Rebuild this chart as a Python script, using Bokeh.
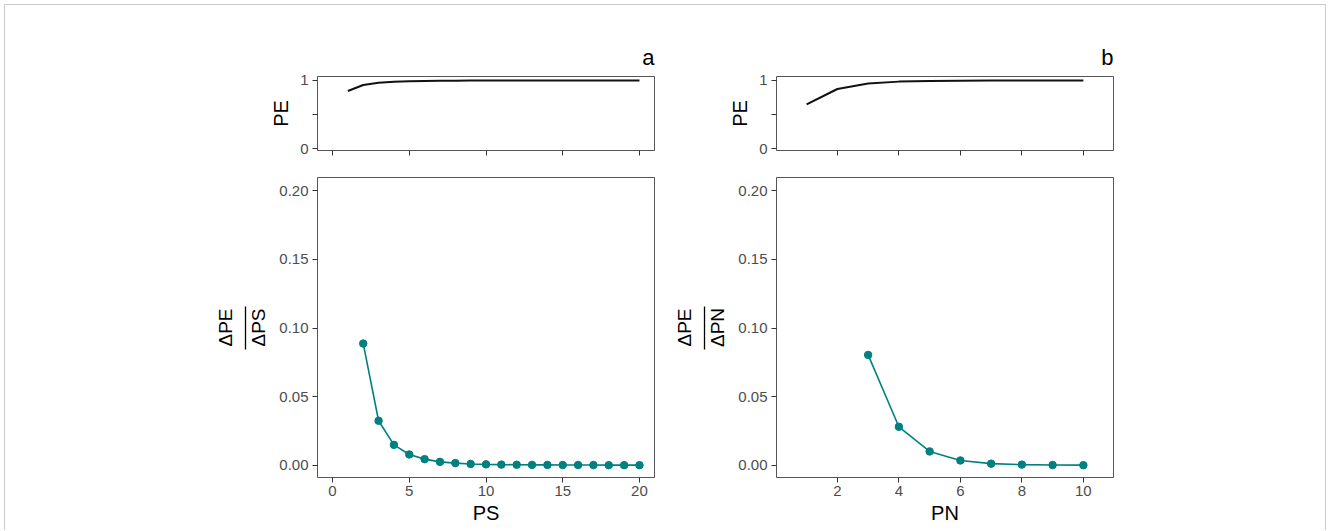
from bokeh.plotting import figure
from bokeh.models import Range1d, FixedTicker, LinearAxis, NumeralTickFormatter
from bokeh.layouts import row, column
from bokeh.embed import file_html
from bokeh.resources import INLINE

# ---------------- data ----------------
ps = [1, 2, 3, 4, 5, 6, 7, 8, 9, 10, 11, 12, 13, 14, 15, 16, 17, 18, 19, 20]
pe_ps = [0.845, 0.934, 0.966, 0.981, 0.989, 0.993, 0.995, 0.997, 0.998, 0.998,
         0.999, 0.999, 0.999, 1.0, 1.0, 1.0, 1.0, 1.0, 1.0, 1.0]
ps_delta = [2, 3, 4, 5, 6, 7, 8, 9, 10, 11, 12, 13, 14, 15, 16, 17, 18, 19, 20]
dpe_dps = [0.0887, 0.0324, 0.0148, 0.0078, 0.0044, 0.0024, 0.0015, 0.0009, 0.0006,
           0.0004, 0.0003, 0.0002, 0.0002, 0.0001, 0.0001, 0.0001, 0.0, 0.0, 0.0]

pn = [1, 2, 3, 4, 5, 6, 7, 8, 9, 10]
pe_pn = [0.65, 0.875, 0.955, 0.983, 0.993, 0.996, 0.998, 0.999, 0.999, 1.0]
pn_delta = [3, 4, 5, 6, 7, 8, 9, 10]
dpe_dpn = [0.0804, 0.028, 0.0100, 0.0034, 0.0011, 0.0004, 0.0001, 0.0]

ps_ticks = [0, 5, 10, 15, 20]
pn_ticks = [2, 4, 6, 8, 10]
pe_ticks = [0, 0.5, 1]
pe_tick_labels = ["0", "", "1"]
d_ticks = [0, 0.05, 0.10, 0.15, 0.20]

FONT = "Liberation Sans"
TEAL = "#008080"


def base_style(p):
    p.grid.grid_line_color = None
    p.outline_line_color = "#555555"
    p.outline_line_width = 1
    p.background_fill_color = "white"
    p.border_fill_color = None
    for ax in p.axis:
        ax.axis_line_color = None
        ax.major_tick_in = 0
        ax.major_tick_out = 5
        ax.major_tick_line_color = "#333333"
        ax.major_tick_line_width = 1
        ax.minor_tick_line_color = None
        ax.major_label_text_font = FONT
        ax.major_label_text_font_size = "15px"
        ax.major_label_text_color = "#4d4d4d"
        ax.major_label_standoff = 4
        ax.axis_label_text_font = FONT
        ax.axis_label_text_font_style = "normal"
        ax.axis_label_text_color = "black"


def make_pair(xr, xticks, x_top, y_top, x_d, y_d, xname, tag, left, right, fig_w):
    common = dict(output_backend="svg", toolbar_location=None, x_range=xr,
                  min_border_left=left, min_border_right=right)
    top = figure(width=fig_w, height=162, y_range=Range1d(-0.025, 1.058),
                 min_border_top=76, min_border_bottom=12, **common)
    top.line(x_top, y_top, line_color="#111111", line_width=2)
    base_style(top)
    top.title.text = tag
    top.title.align = "right"
    top.title.text_font = FONT
    top.title.text_font_size = "22px"
    top.title.text_font_style = "normal"
    top.title.text_color = "black"
    top.title.standoff = 14
    top.xaxis.ticker = FixedTicker(ticks=xticks)
    top.xaxis.major_label_overrides = {t: "" for t in xticks}
    top.xaxis.major_label_text_font_size = "1px"
    top.xaxis.major_label_standoff = 0
    top.yaxis.ticker = FixedTicker(ticks=pe_ticks)
    top.yaxis.major_label_overrides = dict(zip(pe_ticks, pe_tick_labels))
    top.yaxis.axis_label = "PE"
    top.yaxis.axis_label_text_font_size = "20px"
    top.yaxis.axis_label_standoff = 5

    bot = figure(width=fig_w, height=368, y_range=Range1d(-0.009, 0.2098),
                 min_border_top=15, min_border_bottom=53, **common)
    bot.line(x_d, y_d, line_color=TEAL, line_width=1.6)
    bot.scatter(x_d, y_d, size=7.5, fill_color=TEAL, line_color=TEAL)
    # outer axis: fraction bar + numerator
    num_axis = LinearAxis(ticker=FixedTicker(ticks=[]), bounds=(0.0845, 0.1155))
    bot.add_layout(num_axis, "left")
    base_style(bot)
    bot.xaxis.ticker = FixedTicker(ticks=xticks)
    bot.xaxis.major_label_standoff = 3
    bot.xaxis.axis_label = xname
    bot.xaxis.axis_label_text_font_size = "20px"
    bot.xaxis.axis_label_standoff = 3
    ylab = bot.yaxis[0]
    ylab.ticker = FixedTicker(ticks=d_ticks)
    ylab.formatter = NumeralTickFormatter(format="0.00")
    ylab.axis_label = "\u0394" + xname
    ylab.axis_label_text_font_size = "19px"
    ylab.axis_label_standoff = 7
    num_axis.axis_line_color = "black"
    num_axis.axis_line_width = 1.3
    num_axis.major_tick_out = 0
    num_axis.major_label_standoff = 0
    num_axis.axis_label = "\u0394PE"
    num_axis.axis_label_text_font_size = "19px"
    num_axis.axis_label_standoff = 10
    return top, bot


ta, ba = make_pair(Range1d(-0.98, 20.98), ps_ticks, ps, pe_ps, ps_delta, dpe_dps,
                   "PS", "a", 317, 3, 657)
tb, bb = make_pair(Range1d(0.02, 10.98), pn_ticks, pn, pe_pn, pn_delta, dpe_dpn,
                   "PN", "b", 119, 215, 671)

BORDER = "linear-gradient(#cccccc, #cccccc)"
layout = column(row(ta, tb), row(ba, bb),
                styles={"background-color": "white",
                        "background-image": ", ".join([BORDER] * 3),
                        "background-position": "4px 4px, 4px 4px, 1325px 4px",
                        "background-size": "1px 100%, 1322px 1px, 1px 100%",
                        "background-repeat": "no-repeat"})

open("out.html", "w").write(file_html(layout, INLINE))
